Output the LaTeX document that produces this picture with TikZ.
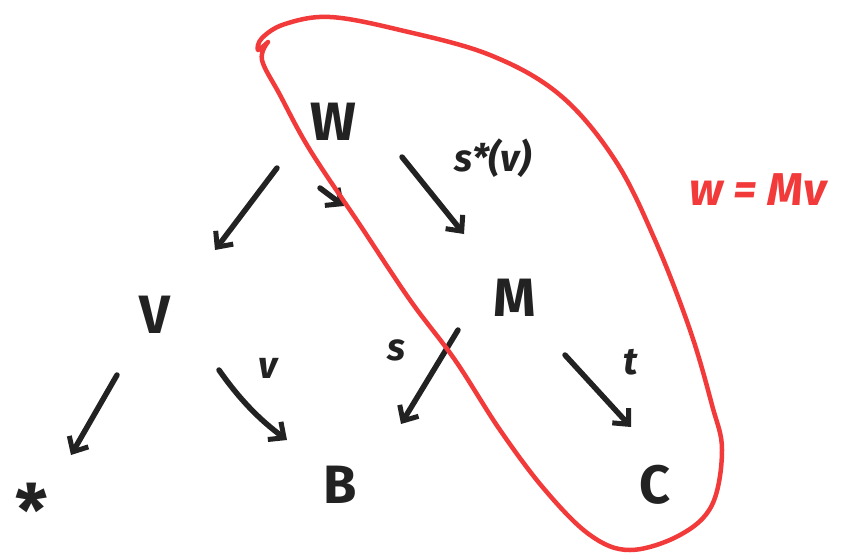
\documentclass[tikz,border=0pt]{standalone}
\usepackage{fontspec}
\setmainfont{Fira Sans}
\usetikzlibrary{arrows.meta}
\definecolor{ink}{HTML}{222222}
\definecolor{pen}{HTML}{F23A3A}
\tikzset{
  obj/.style={font=\bfseries\fontsize{54}{58}\selectfont, text=ink, inner sep=0pt},
  lbl/.style={font=\bfseries\itshape\fontsize{38}{42}\selectfont, text=ink, inner sep=0pt},
  arr/.style={draw=ink, line width=5.5pt, line cap=round, line join=round,
    -{Straight Barb[length=12pt,width=22pt,line width=5pt]}},
  loop/.style={draw=pen, line width=4.5pt, line cap=round, line join=round},
}
\begin{document}
\begin{tikzpicture}[x=1pt,y=-1pt]
\useasboundingbox (0,0) rectangle (852,558);
% objects
\node[obj] (W) at (333,122) {W};
\node[obj] (V) at (155,315) {V};
\node[obj] (M) at (515,298) {M};
\node[obj, font=\bfseries\fontsize{72}{76}\selectfont] (S) at (32,510) {*};
\node[obj] (B) at (340,485) {B};
\node[obj] (C) at (655,485) {C};
% arrow end points
\coordinate (wv1) at (277,168); \coordinate (wv2) at (215,250);
\coordinate (wd1) at (320,188); \coordinate (wd2) at (344,206);
\coordinate (wm1) at (402,157); \coordinate (wm2) at (464,234);
\coordinate (vs1) at (117,375); \coordinate (vs2) at (71,455);
\coordinate (vb1) at (219,370); \coordinate (vb2) at (287,440);
\coordinate (mb1) at (458,330); \coordinate (mb2) at (401,424);
\coordinate (mc1) at (565,355); \coordinate (mc2) at (631,427);
\draw[arr] (wv1) -- (wv2);
\draw[arr] (wd1) -- (wd2);
\draw[arr] (wm1) -- (wm2);
\draw[arr] (vs1) -- (vs2);
\draw[arr] (vb1) .. controls (240,400) and (260,420) .. (vb2);
\draw[arr] (mb1) -- (mb2);
\draw[arr] (mc1) -- (mc2);
% labels
\node[lbl] (lsv) at (493,158) {s*(v)};
\node[lbl] (lv) at (268,368) {v};
\node[lbl] (ls) at (396,350) {s};
\node[lbl] (lt) at (631,362) {t};
% red loop
\draw[loop] plot[smooth, tension=0.6] coordinates {
 (268,42) (258,50) (262,38) (285,24) (330,17) (400,30) (490,55) (560,95)
 (615,160) (655,240) (690,330) (712,405) (722,450) (712,505) (680,535)
 (630,550) (590,535) (545,490) (500,430) (455,360) (410,300) (360,225)
 (310,150) (280,95) (262,60) (268,42)};
\node[font=\bfseries\itshape\fontsize{46}{50}\selectfont, text=pen] (eq) at (758,190) {w = Mv};
\end{tikzpicture}
\end{document}
